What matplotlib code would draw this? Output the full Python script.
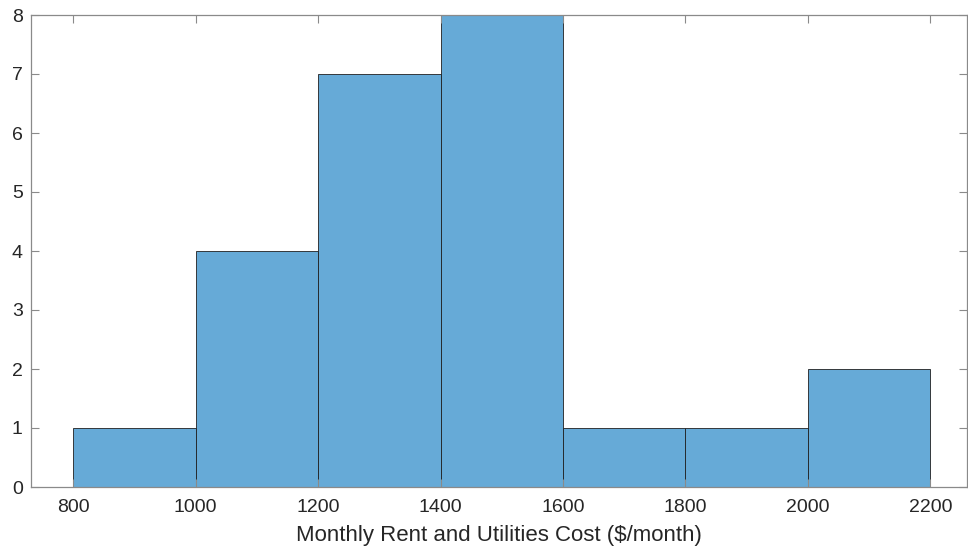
import matplotlib
matplotlib.use("Agg")
import matplotlib.pyplot as plt
import numpy as np

bin_edges = [800, 1000, 1200, 1400, 1600, 1800, 2000, 2200]
counts = [1, 4, 7, 8, 1, 1, 2]
xticks = [800, 1000, 1200, 1400, 1600, 1800, 2000, 2200]
yticks = [0, 1, 2, 3, 4, 5, 6, 7, 8]

plt.rcParams['font.family'] = ['Liberation Sans', 'DejaVu Sans']

fig = plt.figure(figsize=(9.68, 5.46), dpi=100)
ax = fig.add_axes([31/968, 59/546, 936/968, 472/546])

edges = np.array(bin_edges)
ax.bar(edges[:-1], counts, width=np.diff(edges), align='edge',
       color='#66aad7', edgecolor='#1f1f1f', linewidth=0.6)

ax.set_xlim(731, 2260)
ax.set_ylim(0, 8)
ax.set_xticks(xticks)
ax.set_yticks(yticks)
ax.tick_params(direction='in', length=6, width=0.8, color='#8a8a8a',
               labelsize=14, labelcolor='#262626', top=True, right=True)
ax.tick_params(axis='x', pad=9)
ax.tick_params(axis='y', pad=6)
for s in ax.spines.values():
    s.set_color('#8a8a8a')
    s.set_linewidth(0.9)
ax.set_xlabel("Monthly Rent and Utilities Cost ($/month)", fontsize=16,
              color='#262626', labelpad=6)

fig.savefig("out.png", dpi=100)
